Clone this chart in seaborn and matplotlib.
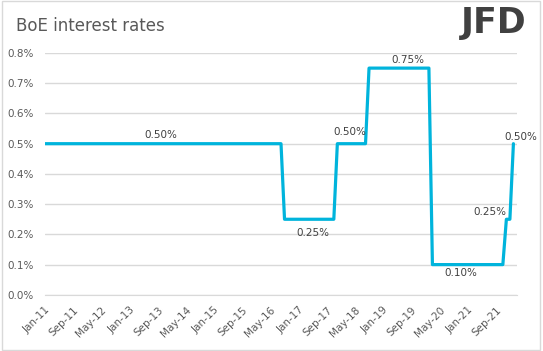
import numpy as np
import pandas as pd
import matplotlib.pyplot as plt
import seaborn as sns

# Bank Rate held for each stretch of months (Jan-11 .. Feb-22, month-end values)
rates = [0.50, 0.25, 0.50, 0.75, 0.10, 0.25, 0.50]
months_held = [68, 15, 9, 18, 21, 2, 1]

# labelled points: month index, text, offset (points), horizontal alignment
label_idx = [33, 76, 87, 103, 118, 131, 133]
label_txt = ["0.50%", "0.25%", "0.50%", "0.75%", "0.10%", "0.25%", "0.50%"]
label_off = [(0, 6), (0, -10), (-1, 8.5), (0, 6), (0, -6), (0, 5), (5.5, 5)]
label_ha = ["center", "center", "center", "center", "center", "right", "center"]

dates = pd.date_range("2011-01-01", periods=sum(months_held), freq="MS")
df = pd.DataFrame({
    "idx": np.arange(len(dates)),
    "rate": np.repeat(rates, months_held),
})

sns.set_style("white")
plt.rcParams["font.family"] = ["DejaVu Sans"]

fig = plt.figure(figsize=(5.43, 3.51), dpi=100)
ax = fig.add_axes([0.083, 0.16, 0.869, 0.689])

sns.lineplot(data=df, x="idx", y="rate", color="#00B4DC", linewidth=2.3, ax=ax)

for i, t, off, ha in zip(label_idx, label_txt, label_off, label_ha):
    ax.annotate(t, (i, df["rate"][i]), xytext=off, textcoords="offset points",
                ha=ha, va="center", fontsize=7.5, color="#404040")

ax.set_xlim(0, len(dates))
ax.set_ylim(0, 0.8)
ax.set_yticks(np.arange(0, 0.81, 0.1))
ax.set_yticklabels([f"{v:.1f}%" for v in np.arange(0, 0.81, 0.1)])
tick_pos = np.arange(0, len(dates), 8)
ax.set_xticks(tick_pos)
ax.set_xticklabels([dates[i].strftime("%b-%y") for i in tick_pos],
                   rotation=45, ha="right", rotation_mode="anchor")
ax.tick_params(axis="x", length=4, color="#D9D9D9", labelsize=7.5,
               labelcolor="#595959", pad=3)
ax.tick_params(axis="y", length=0, labelsize=7.5, labelcolor="#595959", pad=8)
ax.grid(axis="y", color="#D9D9D9", linewidth=1)
ax.set_axisbelow(True)
for s in ["top", "right", "left"]:
    ax.spines[s].set_visible(False)
ax.spines["bottom"].set_color("#D9D9D9")
ax.set_xlabel("")
ax.set_ylabel("")

fig.text(0.03, 0.925, "BoE interest rates", fontsize=12, color="#595959",
         va="center")
fig.text(0.97, 0.935, "JFD", fontsize=25, fontweight="bold", color="#404040",
         ha="right", va="center")

# thin border around the whole image
fig.patches.append(plt.Rectangle((0.003, 0.004), 0.992, 0.992, transform=fig.transFigure,
                                 fill=False, edgecolor="#D9D9D9", linewidth=1))

fig.savefig("out.png", dpi=100)
